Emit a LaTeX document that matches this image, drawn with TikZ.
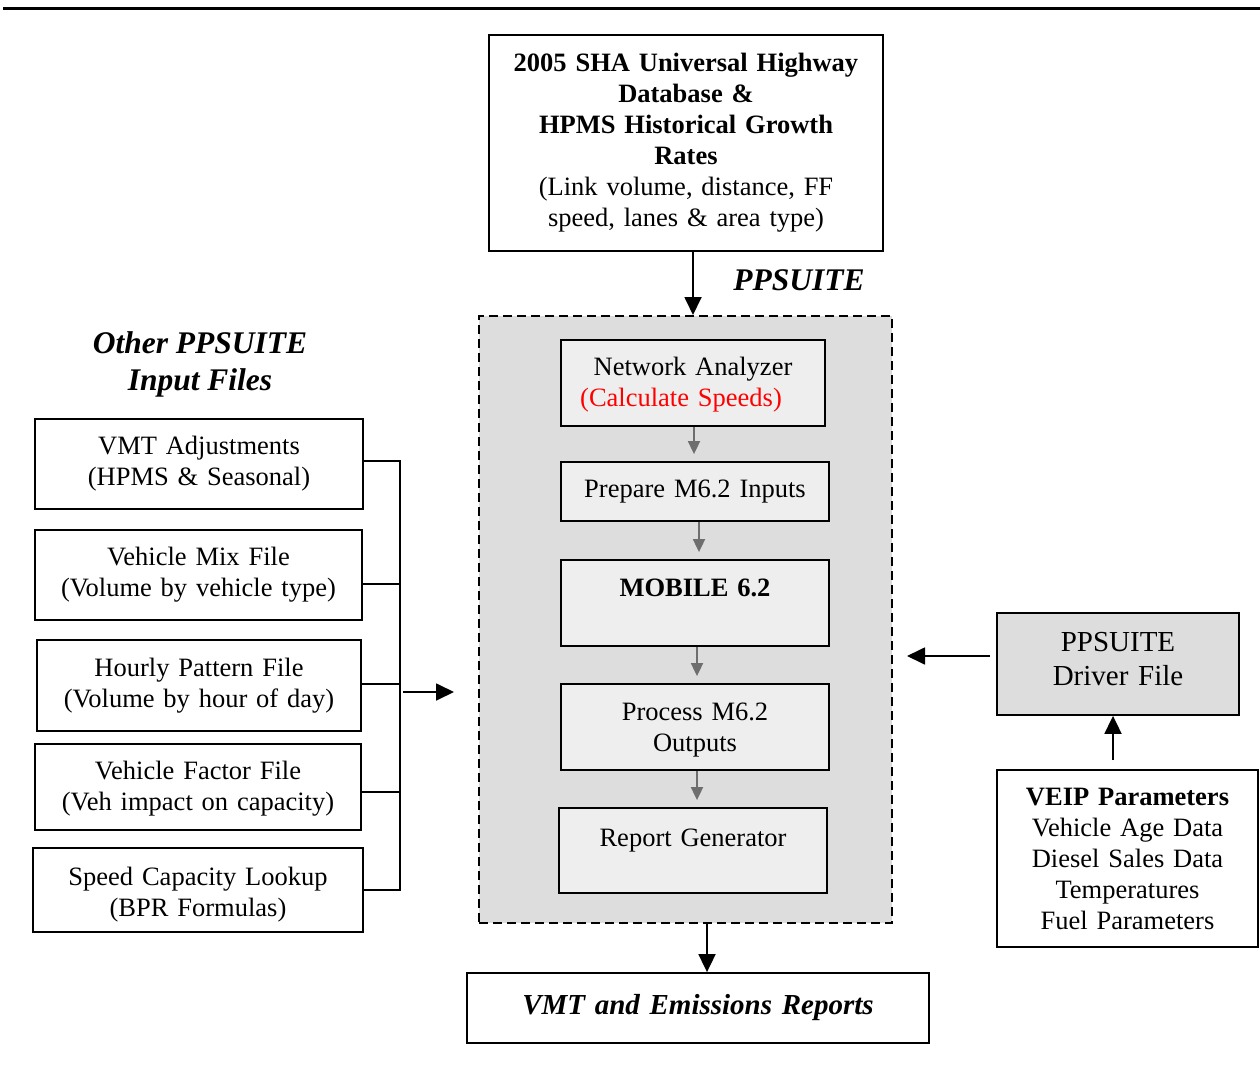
\documentclass[tikz,border=0pt]{standalone}
\usepackage{fontspec}
\setmainfont{Liberation Serif}
\usetikzlibrary{arrows.meta,calc}
\definecolor{dashfill}{HTML}{DDDDDD}
\definecolor{boxfill}{HTML}{EEEEEE}
\definecolor{arrgray}{HTML}{6E6E6E}
\newcommand{\fsA}{\fontsize{26.5}{31}\selectfont}
\newcommand{\fsB}{\fontsize{29}{34}\selectfont}
\newcommand{\fsC}{\fontsize{31.5}{37}\selectfont}
\begin{document}
\begin{tikzpicture}[x=1pt,y=-1pt,
  box/.style={draw, line width=1.8pt, inner sep=0pt, align=center, font=\fsA},
  arr/.style={line width=1.8pt, -{Triangle[length=18pt,width=17pt]}},
  garr/.style={draw=arrgray, line width=1.8pt, -{Triangle[length=13pt,width=12pt]}, shorten >=7pt},
  ln/.style={line width=1.7pt},
  ttl/.style={font={\fsC\bfseries\itshape}, align=center, inner sep=0pt}]
\useasboundingbox (0,0) rectangle (1260,1067);
% top rule
\draw[line width=2.5pt] (3,8.5) -- (1260,8.5);
% top source box
\node[box, minimum width=394pt, minimum height=216pt, text width=380pt] (top) at (686,143)
  {\bfseries 2005 SHA Universal Highway\\ Database \&\\ HPMS Historical Growth\\ Rates\\
   \mdseries (Link volume, distance, FF\\ speed, lanes \& area type)};
\node[ttl] (pp) at (799,280) {PPSUITE};
% dashed PPSUITE box
\node[draw, dash pattern=on 9pt off 5pt, line width=2pt, fill=dashfill, inner sep=0pt,
  minimum width=413pt, minimum height=607pt] (dash) at (685.5,619.5) {};
% inner boxes
\node[box, fill=boxfill, minimum width=264pt, minimum height=86pt, text width=254pt] (na) at (693,383)
  {\rule{0pt}{22pt}Network Analyzer\\ \textcolor{red}{(Calculate Speeds)}\rule{24pt}{0pt}};
\node[box, fill=boxfill, minimum width=268pt, minimum height=59pt, text width=258pt] (prep) at (695,491.5)
  {Prepare M6.2 Inputs};
\node[box, fill=boxfill, minimum width=268pt, minimum height=86pt, text width=258pt] (mob) at (695,603)
  {\textbf{MOBILE 6.2}\\ \mbox{}};
\node[box, fill=boxfill, minimum width=268pt, minimum height=86pt, text width=258pt] (proc) at (695,727)
  {\rule{0pt}{24pt}Process M6.2\\ Outputs};
\node[box, fill=boxfill, minimum width=268pt, minimum height=85pt, text width=258pt] (rep) at (693,850.5)
  {\rule{0pt}{22pt}Report Generator\\ \mbox{}};
% output box
\node[box, minimum width=462pt, minimum height=70pt, text width=450pt, font={\fontsize{29}{34}\selectfont\bfseries\itshape}] (vmt) at (698,1008)
  {VMT and Emissions Reports\rule[-4pt]{0pt}{0pt}};
% left title and input boxes
\node[ttl] (lt) at (200,364.5) {Other PPSUITE\\ Input Files};
\node[box, minimum width=328pt, minimum height=90pt, text width=318pt] (b1) at (199,464)
  {VMT Adjustments\\ (HPMS \& Seasonal)};
\node[box, minimum width=327pt, minimum height=90pt, text width=317pt] (b2) at (198.5,575)
  {Vehicle Mix File\\ (Volume by vehicle type)};
\node[box, minimum width=324pt, minimum height=91pt, text width=314pt] (b3) at (199,685.5)
  {Hourly Pattern File\\ (Volume by hour of day)};
\node[box, minimum width=326pt, minimum height=86pt, text width=316pt] (b4) at (198,787)
  {\rule{0pt}{22pt}Vehicle Factor File\\ (Veh impact on capacity)};
\node[box, minimum width=330pt, minimum height=84pt, text width=320pt] (b5) at (198,890)
  {\rule{0pt}{27pt}Speed Capacity Lookup\\ (BPR Formulas)};
% right boxes
\node[box, fill=dashfill, minimum width=242pt, minimum height=102pt, text width=232pt, font=\fsB] (drv) at (1118,664)
  {PPSUITE\\ Driver File\rule[-10pt]{0pt}{0pt}};
\node[box, minimum width=261pt, minimum height=177pt, text width=251pt] (veip) at (1127.5,858.5)
  {\textbf{VEIP Parameters}\\ Vehicle Age Data\\ Diesel Sales Data\\ Temperatures\\ Fuel Parameters};
% main arrows
\draw[arr] (top.south -| na.north) -- (dash.north -| na.north);
\path ($(dash.south)+(21.5,0)$) coordinate (bs);
\draw[arr] (bs) -- (bs |- vmt.north);
% gray internal arrows
\path ($(na.south)+(1,0)$) coordinate (g1);
\path ($(prep.south)+(4,0)$) coordinate (g2);
\path ($(mob.south)+(2,0)$) coordinate (g3);
\path ($(proc.south)+(2,0)$) coordinate (g4);
\draw[garr] (g1) -- (g1 |- prep.north);
\draw[garr] (g2) -- (g2 |- mob.north);
\draw[garr] (g3) -- (g3 |- proc.north);
\draw[garr] (g4) -- (g4 |- rep.north);
% bracket of input files
\coordinate (k1) at (400,461);
\coordinate (k2) at (400,584);
\coordinate (k3) at (400,684);
\coordinate (k4) at (400,792);
\coordinate (k5) at (400,890);
\draw[ln] (b1.east |- k1) -- (k1) -- (k5) -- (b5.east |- k5);
\draw[ln] (b2.east |- k2) -- (k2);
\draw[ln] (b3.east |- k3) -- (k3);
\draw[ln] (b4.east |- k4) -- (k4);
\coordinate (kin) at (403,692);
\draw[arr] (kin) -- ($(dash.west |- kin)+(-24,0)$);
% driver file arrows
\path ($(drv.west)+(-6,-8)$) coordinate (ds);
\draw[arr] (ds) -- ($(dash.east |- ds)+(14,0)$);
\path ($(veip.north -| drv.south)+(-5,-9)$) coordinate (vs);
\draw[arr] (vs) -- (vs |- drv.south);
\end{tikzpicture}
\end{document}
